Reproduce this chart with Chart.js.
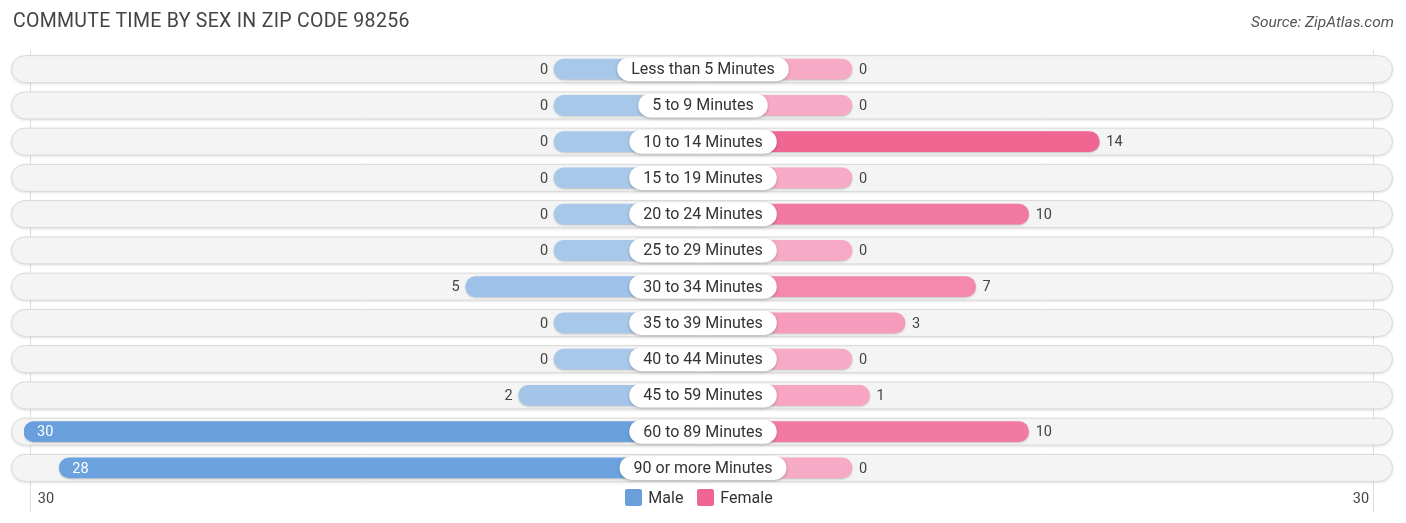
<!DOCTYPE html>
<html>
<head>
<meta charset="utf-8">
<script src="https://cdn.jsdelivr.net/npm/chart.js@4"></script>
<style>
  html, body { margin: 0; padding: 0; background: #fff; }
  #wrap { position: relative; width: 1406px; height: 523px; font-family: Roboto, "Noto Sans", sans-serif; }
  #title { position: absolute; left: 13px; top: 9px; font-size: 19.5px; color: #444; letter-spacing: 0.3px; }
  #source { position: absolute; right: 12px; top: 13px; font-size: 15.5px; color: #555; font-style: italic; }
  #legend { position: absolute; top: 488px; left: -4px; width: 1406px; text-align: center; font-size: 16px; color: #333; }
  #legend span.item { display: inline-block; margin: 0 5px; }
  #legend i { display: inline-block; width: 17px; height: 17px; vertical-align: -3px; margin-right: 6px; border-radius: 2px; }
  canvas { position: absolute; left: 0; top: 0; }
</style>
</head>
<body>
<div id="wrap">
  <canvas id="chart" width="1406" height="523"></canvas>
  <div id="title">COMMUTE TIME BY SEX IN ZIP CODE 98256</div>
  <div id="source">Source: ZipAtlas.com</div>
  <div id="legend">
    <span class="item"><i style="background:#6a9fdc"></i>Male</span>
    <span class="item"><i style="background:#f06693"></i>Female</span>
  </div>
</div>
<script>
// Données
const categories = ['Less than 5 Minutes', '5 to 9 Minutes', '10 to 14 Minutes', '15 to 19 Minutes',
  '20 to 24 Minutes', '25 to 29 Minutes', '30 to 34 Minutes', '35 to 39 Minutes',
  '40 to 44 Minutes', '45 to 59 Minutes', '60 to 89 Minutes', '90 or more Minutes'];
const maleValues = [0, 0, 0, 0, 0, 0, 5, 0, 0, 2, 30, 28];
const femaleValues = [0, 0, 14, 0, 10, 0, 7, 3, 0, 1, 10, 0];
const axisMax = 30;
const axisLabels = ['30', '30'];

// longueur minimale des barres (derrière l'étiquette), en unités
const stub = 8.43;
const maleMax = Math.max(...maleValues);
const femaleMax = Math.max(...femaleValues);

function mix(a, b, t) {
  return 'rgb(' + a.map((c, i) => Math.round(c + (b[i] - c) * t)).join(',') + ')';
}
const maleColors = maleValues.map(v => mix([168, 200, 234], [104, 159, 220], v / maleMax));
const femaleColors = femaleValues.map(v => mix([247, 170, 198], [240, 102, 147], v / femaleMax));

// fond des lignes, grille, étiquettes
const rowsPlugin = {
  id: 'rows',
  beforeDatasetsDraw(chart) {
    const ctx = chart.ctx;
    const y = chart.scales.y;
    ctx.save();
    ctx.strokeStyle = '#dddddd';
    ctx.lineWidth = 1;
    ctx.beginPath();
    ctx.moveTo(30.5, 50); ctx.lineTo(30.5, 512);
    ctx.moveTo(1373.5, 50); ctx.lineTo(1373.5, 512);
    ctx.stroke();
    categories.forEach((c, i) => {
      const cy = y.getPixelForValue(i);
      ctx.save();
      ctx.shadowColor = 'rgba(0,0,0,0.15)';
      ctx.shadowBlur = 3;
      ctx.shadowOffsetY = 1;
      ctx.fillStyle = '#f4f4f4';
      ctx.beginPath();
      ctx.roundRect(11.5, cy - 13.5, 1381, 27, 13.5);
      ctx.fill();
      ctx.restore();
      ctx.strokeStyle = '#d9d9d9';
      ctx.beginPath();
      ctx.roundRect(11.5, cy - 13.5, 1381, 27, 13.5);
      ctx.stroke();
    });
    ctx.restore();
  },
  beforeDatasetDraw(chart) {
    chart.ctx.save();
    chart.ctx.shadowColor = 'rgba(0,0,0,0.2)';
    chart.ctx.shadowBlur = 2;
    chart.ctx.shadowOffsetY = 1;
  },
  afterDatasetDraw(chart) {
    chart.ctx.restore();
  },
  afterDatasetsDraw(chart) {
    const ctx = chart.ctx;
    const x = chart.scales.x;
    const y = chart.scales.y;
    const cx = x.getPixelForValue(0);
    ctx.save();
    ctx.textBaseline = 'middle';
    categories.forEach((c, i) => {
      const cy = y.getPixelForValue(i);
      // valeurs
      ctx.font = '14.5px Roboto, sans-serif';
      const m = maleValues[i];
      const mx = x.getPixelForValue(-(m + stub));
      if (m > 20) {
        ctx.fillStyle = '#ffffff';
        ctx.textAlign = 'left';
        ctx.fillText(String(m), mx + 13, cy + 1);
      } else {
        ctx.fillStyle = '#444';
        ctx.textAlign = 'right';
        ctx.fillText(String(m), mx - 6, cy + 1);
      }
      const f = femaleValues[i];
      const fx = x.getPixelForValue(f + stub);
      ctx.fillStyle = '#444';
      ctx.textAlign = 'left';
      ctx.fillText(String(f), fx + 7, cy + 1);
      // étiquette centrale
      ctx.font = '16px Roboto, sans-serif';
      const w = ctx.measureText(c).width + 28;
      ctx.save();
      ctx.shadowColor = 'rgba(0,0,0,0.25)';
      ctx.shadowBlur = 3;
      ctx.shadowOffsetY = 1;
      ctx.fillStyle = '#ffffff';
      ctx.beginPath();
      ctx.roundRect(cx - w / 2, cy - 12, w, 24, 12);
      ctx.fill();
      ctx.restore();
      ctx.fillStyle = '#333';
      ctx.textAlign = 'center';
      ctx.fillText(c, cx, cy + 1);
    });
    // repères de l'axe
    ctx.font = '14.5px Roboto, sans-serif';
    ctx.fillStyle = '#444';
    ctx.textAlign = 'center';
    ctx.fillText(axisLabels[0], 46, 499);
    ctx.fillText(axisLabels[1], 1361, 499);
    ctx.restore();
  }
};

const ctx = document.getElementById('chart').getContext('2d');
const chart = new Chart(ctx, {
  type: 'bar',
  data: {
    labels: categories,
    datasets: [
      {
        label: 'Male',
        data: maleValues.map(v => [0, -(v + stub)]),
        backgroundColor: maleColors,
        borderRadius: 10,
        borderSkipped: false,
        barThickness: 20,
        grouped: false
      },
      {
        label: 'Female',
        data: femaleValues.map(v => [0, v + stub]),
        backgroundColor: femaleColors,
        borderRadius: 10,
        borderSkipped: false,
        barThickness: 20,
        grouped: false
      }
    ]
  },
  options: {
    indexAxis: 'y',
    responsive: false,
    animation: false,
    layout: { padding: { left: 24, right: 24, top: 51, bottom: 37 } },
    plugins: { legend: { display: false }, tooltip: { enabled: false } },
    scales: {
      x: { display: false, min: -(axisMax + stub), max: axisMax + stub },
      y: { display: false }
    }
  },
  plugins: [rowsPlugin]
});
</script>
</body>
</html>
